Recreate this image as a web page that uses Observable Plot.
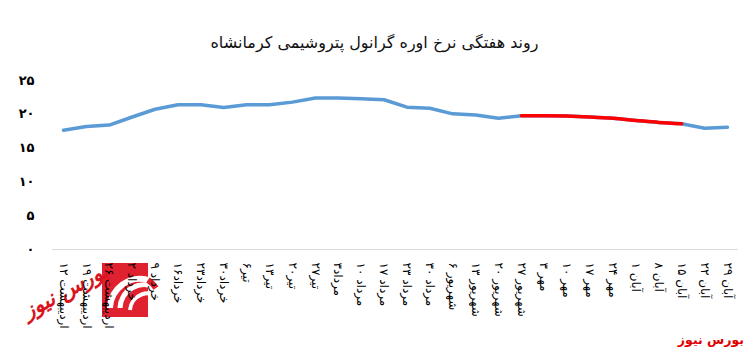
<!DOCTYPE html>
<html><head><meta charset="utf-8">
<script src="https://cdn.jsdelivr.net/npm/d3@7"></script>
<script src="https://cdn.jsdelivr.net/npm/@observablehq/plot@0.6"></script>
<style>
html,body{margin:0;padding:0;background:#fff;}
#wrap{position:relative;width:749px;height:352px;overflow:hidden;font-family:"DejaVu Sans",sans-serif;}
#title{position:absolute;top:33px;left:0;width:749px;text-align:center;font-size:16px;color:#111;direction:rtl;}
#cap{position:absolute;right:5px;top:332px;font-size:12.5px;font-weight:bold;color:#e00000;direction:rtl;}
#logo{position:absolute;left:20px;top:258px;z-index:0;}
#chart{position:absolute;left:0;top:0;width:749px;height:352px;z-index:1;}
#chart svg{background:transparent !important;max-width:none !important;}
</style></head>
<body>
<div id="wrap">
  <svg id="logo" width="150" height="75" viewBox="0 0 150 75">
    <rect x="82" y="5" width="46" height="54" fill="#e0212f"/>
    <path d="M90 50 A30 30 0 0 1 128 22" stroke="#fff" stroke-width="6" fill="none"/>
    <path d="M100 50 A24 24 0 0 1 136 30" stroke="#fff" stroke-width="5" fill="none"/>
    <path d="M110 52 A18 18 0 0 1 140 40" stroke="#fff" stroke-width="4" fill="none"/>
    <path d="M128 22 A30 30 0 0 1 136 30" stroke="#e0212f" stroke-width="6" fill="none"/>
    <text x="45" y="40" transform="rotate(-28 45 32)" text-anchor="middle" font-family="DejaVu Sans" font-style="italic" font-weight="bold" font-size="21" fill="#d8151f" direction="rtl">بورس نیوز</text>
  </svg>
  <div id="chart"></div>
  <div id="title">روند هفتگی نرخ اوره گرانول پتروشیمی کرمانشاه</div>
  <div id="cap">بورس نیوز</div>
</div>
<script>
const weeks = [
  "۱۲ اردیبهشت","۱۹ اردیبهشت","۲۶ اردیبهشت","۲ خرداد","۹ خرداد","۱۶خرداد","۲۳خرداد","۳۰خرداد",
  "۶تیر","۱۳تیر","۲۰تیر","۲۷تیر","۳مرداد","۱۰ مرداد","۱۷ مرداد","۲۳ مرداد","۳۰ مرداد",
  "۶ شهریور","۱۳ شهریور","۲۰ شهریور","۲۷ شهریور","۳ مهر","۱۰ مهر","۱۷ مهر","۲۴ مهر",
  "۱ آبان","۸ آبان","۱۵ آبان","۲۲ آبان","۲۹ آبان"
];
const prices = [
  17.65, 18.2, 18.4, 19.6, 20.75, 21.4, 21.4, 21.0,
  21.4, 21.4, 21.8, 22.4, 22.4, 22.3, 22.15, 21.05, 20.9,
  20.07, 19.9, 19.4, 19.8, 19.8, 19.75, 19.6, 19.4,
  19.1, 18.8, 18.6, 17.95, 18.1
];
const highlightWeeks = ["۲۷ شهریور","۳ مهر","۱۰ مهر","۱۷ مهر","۲۴ مهر","۱ آبان","۸ آبان","۱۵ آبان"];
const yTicks = [0, 5, 10, 15, 20, 25];

const toFa = d => String(d).replace(/[0-9]/g, c => "۰۱۲۳۴۵۶۷۸۹"[+c]);
const data = weeks.map((w, i) => ({week: w, price: prices[i]}));
const hi = data.filter(d => highlightWeeks.includes(d.week));

const chart = Plot.plot({
  width: 749, height: 352,
  marginLeft: 52, marginRight: 11, marginTop: 80, marginBottom: 103,
  style: {fontFamily: "DejaVu Sans", background: "transparent", color: "#000"},
  x: {type: "point", domain: weeks, range: [63, 727], padding: 0, round: false, label: null},
  y: {domain: [0, 25], label: null},
  marks: [
    Plot.ruleY([0], {stroke: "#d9d9d9", strokeWidth: 1}),
    Plot.axisX({tickRotate: 90, tickSize: 0, tickPadding: 13, fontSize: 12, label: null}),
    Plot.axisY({ticks: yTicks, tickSize: 0, tickPadding: 18, tickFormat: toFa, fontSize: 13, fontWeight: "bold", label: null}),
    Plot.line(data, {x: "week", y: "price", stroke: "#5b9bd5", strokeWidth: 3.5, strokeLinecap: "round", strokeLinejoin: "round"}),
    Plot.line(hi, {x: "week", y: "price", stroke: "#ff0000", strokeWidth: 3.5, curve: "monotone-x"})
  ]
});
document.getElementById("chart").appendChild(chart);
</script>
</body></html>
